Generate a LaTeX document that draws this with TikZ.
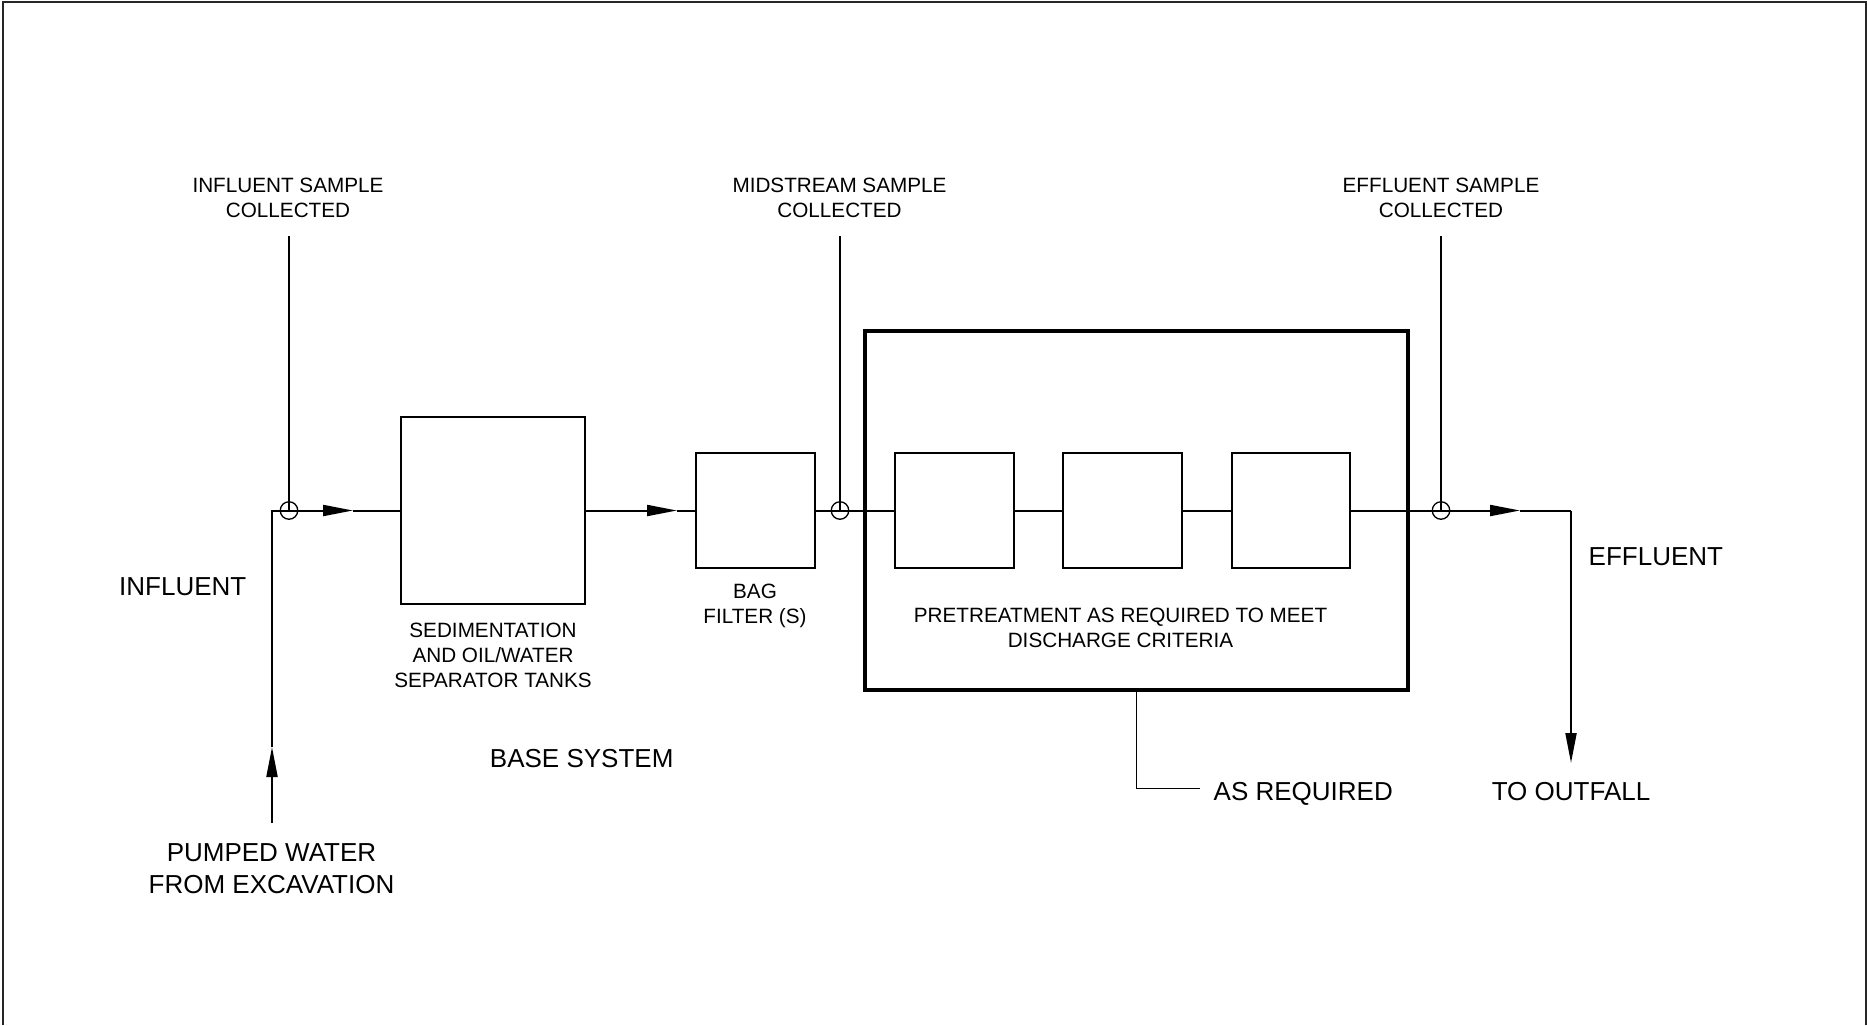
\documentclass[tikz,border=0pt]{standalone}
\usepackage{fontspec}
\setmainfont{Liberation Sans}
\usetikzlibrary{arrows.meta}
\begin{document}
\begin{tikzpicture}[x=1pt,y=-1pt,
  flow/.style={line width=2pt},
  tip/.style={-{Triangle[length=30pt,width=11pt]}},
  box/.style={draw,line width=2.4pt,inner sep=0pt,rectangle},
  bigbox/.style={draw,line width=3.2pt,inner sep=0pt,rectangle},
  thin/.style={line width=1.3pt},
  sampt/.style={draw,circle,line width=1.3pt,minimum size=17.5pt,inner sep=0pt},
  smalltxt/.style={inner sep=0pt,align=center,font=\fontsize{20.7}{25}\selectfont},
  bigtxt/.style={inner sep=0pt,align=center,font=\fontsize{26}{32}\selectfont},
  border/.style={line width=2pt,draw=black!85}]
\useasboundingbox (0,0) rectangle (1867,1025);
\draw[border] (3,1025) -- (3,2) -- (1865.5,2) -- (1865.5,1025);

% boxes
\node[bigbox,minimum width=543pt,minimum height=359pt] (pre) at (1136.5,510.5) {};
\node[box,minimum width=184pt,minimum height=187pt] (sed) at (493,510.5) {};
\node[box,minimum width=119pt,minimum height=115pt] (bag) at (755.5,510.5) {};
\node[box,minimum width=119pt,minimum height=115pt] (p1) at (954.5,510.5) {};
\node[box,minimum width=119pt,minimum height=115pt] (p2) at (1122.5,510.5) {};
\node[box,minimum width=118pt,minimum height=115pt] (p3) at (1291,510.5) {};

% coordinates
\coordinate (cbot) at (272,823);
\coordinate (aup) at (272,747);
\coordinate (cin) at (272,510.5);
\coordinate (s1c) at (289,510.5);
\coordinate (a1) at (353,510.5);
\coordinate (a2) at (677,510.5);
\coordinate (s2c) at (840,510.5);
\coordinate (s3c) at (1441,510.5);
\coordinate (a3) at (1520,510.5);
\coordinate (cout) at (1571,510.5);
\coordinate (aout) at (1571,763);
\coordinate (t1) at (289,236);
\coordinate (t2) at (840,236);
\coordinate (t3) at (1441,236);
\coordinate (lead1) at (1136.5,788.5);
\coordinate (lead2) at (1200,788.5);

% flow lines
\draw[flow,tip] (cbot) -- (aup);
\draw[flow] (aup) -- (cin) -- (s1c);
\draw[flow,tip] (s1c) -- (a1);
\draw[flow] (a1) -- (sed.west);
\draw[flow,tip] (sed.east) -- (a2);
\draw[flow] (a2) -- (bag.west);
\draw[flow] (bag.east) -- (s2c) -- (p1.west);
\draw[flow] (p1.east) -- (p2.west);
\draw[flow] (p2.east) -- (p3.west);
\draw[flow] (p3.east) -- (s3c);
\draw[flow,tip] (s3c) -- (a3);
\draw[flow] (a3) -- (cout);
\draw[flow,tip] (cout) -- (aout);

% sample points
\node[sampt] (s1) at (s1c) {};
\node[sampt] (s2) at (s2c) {};
\node[sampt] (s3) at (s3c) {};
\draw[thin] (t1) -- (s1.center);
\draw[thin] (t2) -- (s2.center);
\draw[thin] (t3) -- (s3.center);

% leader
\draw[thin] (pre.south -| lead1) -- (lead1) -- (lead2);

% labels
\node[smalltxt] (l1) at (288,198.2) {INFLUENT SAMPLE\\COLLECTED};
\node[smalltxt] (l2) at (839.5,198.2) {MIDSTREAM SAMPLE\\COLLECTED};
\node[smalltxt] (l3) at (1441,198.2) {EFFLUENT SAMPLE\\COLLECTED};
\node[smalltxt] (lsed) at (493,654.9) {SEDIMENTATION\\AND OIL/WATER\\SEPARATOR TANKS};
\node[smalltxt] (lbag) at (755,605.6) {BAG\\FILTER (S)};
\node[smalltxt] (lpre) at (1120.5,628.2) {PRETREATMENT AS REQUIRED TO MEET\\DISCHARGE CRITERIA};
\node[bigtxt,anchor=west] (lin) at (119,586.2) {INFLUENT};
\node[bigtxt] (lpump) at (271.5,868.7) {PUMPED WATER\\FROM EXCAVATION};
\node[bigtxt] (lbase) at (581.7,758.5) {BASE SYSTEM};
\node[bigtxt,anchor=west] (lreq) at (1213.5,793.6) {AS REQUIRED};
\node[bigtxt,anchor=west] (leff) at (1588.5,556.2) {EFFLUENT};
\node[bigtxt] (lout) at (1571,791.2) {TO OUTFALL};
\end{tikzpicture}
\end{document}
